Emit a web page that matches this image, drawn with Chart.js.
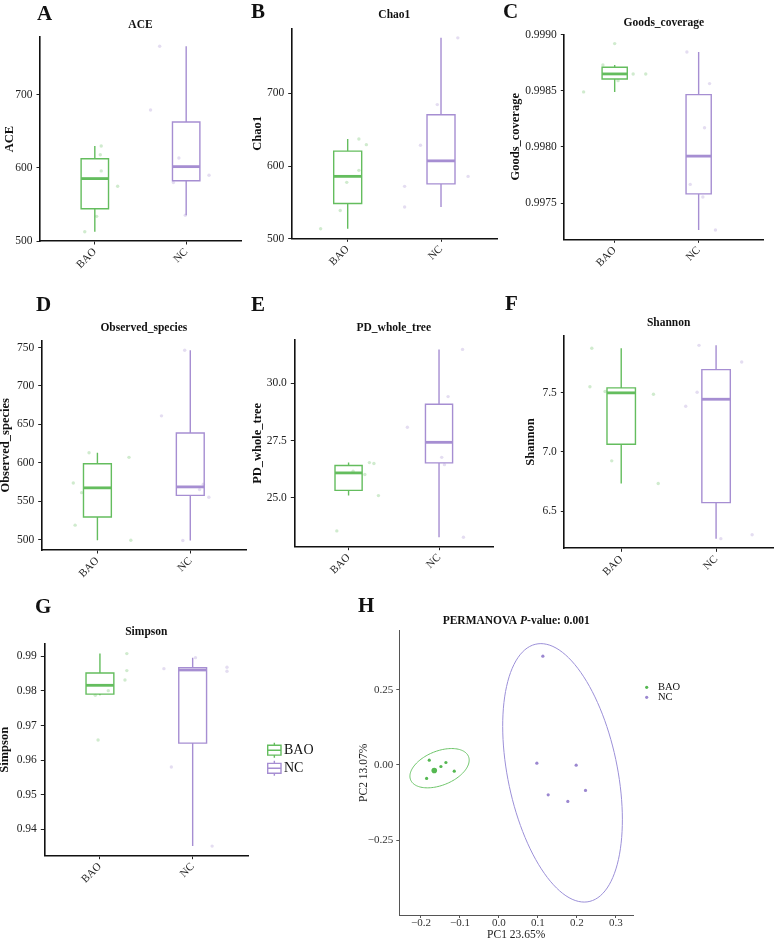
<!DOCTYPE html>
<html lang="en">
<head>
  <meta charset="UTF-8">
  <title>Alpha diversity and PCoA: BAO vs NC</title>
  <style>
    body { margin: 0; background: #fff; }
    #fig { position: relative; width: 777px; height: 939px; overflow: hidden; }
    #fig canvas { position: absolute; }
    .tag { position: absolute; font-family: 'Liberation Serif', serif; font-weight: bold; font-size: 21px; line-height: 21px; color: #111; }
  </style>
</head>
<body>
<div id="fig">
  <canvas id="cA"></canvas>
  <canvas id="cB"></canvas>
  <canvas id="cC"></canvas>
  <canvas id="cD"></canvas>
  <canvas id="cE"></canvas>
  <canvas id="cF"></canvas>
  <canvas id="cG"></canvas>
  <canvas id="cH"></canvas>
  <div class="tag" style="left:37px;top:3px">A</div>
  <div class="tag" style="left:251px;top:1px">B</div>
  <div class="tag" style="left:503px;top:1px">C</div>
  <div class="tag" style="left:36px;top:294px">D</div>
  <div class="tag" style="left:251px;top:294px">E</div>
  <div class="tag" style="left:505px;top:293px">F</div>
  <div class="tag" style="left:35px;top:596px">G</div>
  <div class="tag" style="left:358px;top:595px">H</div>
</div>

<script src="https://cdn.jsdelivr.net/npm/chart.js"></script>
<script>
  const groups = ['BAO', 'NC'];

  // A - ACE (value, jittered x position)
  const aceBAO = [630, 618, 596, 575, 534, 513];
  const aceBAOPos = [1.07, 1.06, 1.07, 1.25, 1.02, 0.89];
  const aceNC = [766, 679, 613.6, 590, 580, 535.5];
  const aceNCPos = [1.71, 1.61, 1.92, 2.25, 1.86, 1.99];
  const aceTicks = [500, 600, 700];
  const aceTickLabels = ['500', '600', '700'];

  // B - Chao1
  const chaoBAO = [513.6, 538.8, 577.5, 594, 637.2, 629.4];
  const chaoBAOPos = [0.71, 0.92, 0.99, 1.12, 1.12, 1.2];
  const chaoNC = [572, 543.5, 628.5, 684.6, 585.7, 776.5];
  const chaoNCPos = [1.61, 1.61, 1.78, 1.96, 2.29, 2.18];
  const chaoTicks = [500, 600, 700];
  const chaoTickLabels = ['500', '600', '700'];

  // C - Goods_coverage
  const goodsBAO = [0.99849, 0.99873, 0.99892, 0.99859, 0.99865, 0.99865];
  const goodsBAOPos = [0.63, 0.86, 1.0, 1.04, 1.22, 1.37];
  const goodsNC = [0.998846, 0.998564, 0.99817, 0.997666, 0.997554, 0.99726];
  const goodsNCPos = [1.86, 2.13, 2.07, 1.9, 2.05, 2.2];
  const goodsTicks = [0.9975, 0.998, 0.9985, 0.999];
  const goodsTickLabels = ['0.9975', '0.9980', '0.9985', '0.9990'];

  // D - Observed_species
  const obsBAO = [613, 573.5, 561, 518.7, 607, 499];
  const obsBAOPos = [0.91, 0.74, 0.83, 0.76, 1.34, 1.36];
  const obsNC = [746.5, 661, 572, 565, 555, 498.7];
  const obsNCPos = [1.94, 1.69, 2.14, 2.1, 2.2, 1.92];
  const obsTicks = [500, 550, 600, 650, 700, 750];
  const obsTickLabels = ['500', '550', '600', '650', '700', '750'];

  // E - PD_whole_tree
  const pdBAO = [23.56, 25.1, 26.02, 26.16, 26.5, 26.54];
  const pdBAOPos = [0.87, 1.33, 1.18, 1.05, 1.28, 1.23];
  const pdNC = [28.08, 29.42, 26.77, 26.45, 31.48, 23.28];
  const pdNCPos = [1.65, 2.1, 2.03, 2.06, 2.26, 2.27];
  const pdTicks = [25, 27.5, 30];
  const pdTickLabels = ['25.0', '27.5', '30.0'];

  // F - Shannon
  const shanBAO = [7.874, 7.55, 7.51, 7.486, 6.924, 6.733];
  const shanBAOPos = [0.69, 0.67, 0.83, 1.34, 0.9, 1.39];
  const shanNC = [7.899, 7.758, 7.503, 7.385, 6.267, 6.3];
  const shanNCPos = [1.82, 2.27, 1.8, 1.68, 2.05, 2.38];
  const shanTicks = [6.5, 7, 7.5];
  const shanTickLabels = ['6.5', '7.0', '7.5'];

  // G - Simpson
  const simBAO = [0.99077, 0.98586, 0.98316, 0.98007, 0.97872, 0.96581];
  const simBAOPos = [1.29, 1.29, 1.27, 1.09, 0.95, 0.98];
  const simNC = [0.98643, 0.98961, 0.98682, 0.98566, 0.958, 0.93516];
  const simNCPos = [1.69, 2.03, 2.37, 2.37, 1.77, 2.21];
  const simTicks = [0.94, 0.95, 0.96, 0.97, 0.98, 0.99];
  const simTickLabels = ['0.94', '0.95', '0.96', '0.97', '0.98', '0.99'];

  // H - PCoA scores
  const pc1BAO = [-0.1786, -0.1359, -0.1487, -0.1145, -0.1854, -0.1658];
  const pc2BAO = [0.0156, 0.008, -0.0053, -0.021, -0.0451, -0.0186];
  const pc1NC = [0.1128, 0.0974, 0.1983, 0.1265, 0.2222, 0.1769];
  const pc2NC = [0.3618, 0.0056, -0.001, -0.0995, -0.085, -0.1216];
  const pc1Ticks = [-0.2, -0.1, 0, 0.1, 0.2, 0.3];
  const pc1TickLabels = ['\u22120.2', '\u22120.1', '0.0', '0.1', '0.2', '0.3'];
  const pc2Ticks = [-0.25, 0, 0.25];
  const pc2TickLabels = ['\u22120.25', '0.00', '0.25'];
  // group ellipses: centre and two conjugate semi-axes (BAO, NC)
  const ellCx = [-0.1522, 0.1633];
  const ellCy = [-0.011, -0.0265];
  const ellAx = [0.031, -0.0556];
  const ellAy = [0.0654, 0.43];
  const ellBx = [0.0694, 0.1431];

  const serif = "'Liberation Serif', 'Times New Roman', serif";
  const lineColors = ['#64BD5E', '#A68ED2'];
  const jitterColors = ['rgba(100,189,94,0.3)', 'rgba(166,142,210,0.3)'];
  const pcoaColors = ['#55B851', '#9B87D0'];
  const ellColors = ['#6CC468', '#9C90D8'];

  Chart.defaults.font.family = serif;
  Chart.defaults.color = '#222';

  function quantile(s, p) {
    const h = (s.length - 1) * p, i = Math.floor(h);
    return i + 1 < s.length ? s[i] + (h - i) * (s[i + 1] - s[i]) : s[i];
  }

  function boxStats(vals) {
    const s = vals.slice().sort((a, b) => a - b);
    const q1 = quantile(s, 0.25), med = quantile(s, 0.5), q3 = quantile(s, 0.75);
    const iqr = q3 - q1;
    const inside = s.filter(v => v >= q1 - 1.5 * iqr && v <= q3 + 1.5 * iqr);
    return { q1, med, q3, lo: inside[0], hi: inside[inside.length - 1] };
  }

  // draws the boxes from computed stats through the chart scales
  const boxplotPlugin = {
    id: 'boxplot',
    beforeDatasetsDraw(chart, args, o) {
      if (!o.stats) return;
      const ctx = chart.ctx, x = chart.scales.x, y = chart.scales.y;
      o.stats.forEach((s, i) => {
        const c = x.getPixelForValue(i + 1);
        const l = x.getPixelForValue(i + 1 - o.width / 2);
        const r = x.getPixelForValue(i + 1 + o.width / 2);
        const py = v => y.getPixelForValue(v);
        ctx.save();
        ctx.strokeStyle = o.colors[i];
        ctx.lineWidth = o.lineWidth;
        ctx.beginPath();
        ctx.moveTo(c, py(s.hi)); ctx.lineTo(c, py(s.q3));
        ctx.moveTo(c, py(s.q1)); ctx.lineTo(c, py(s.lo));
        ctx.rect(l, py(s.q3), r - l, py(s.q1) - py(s.q3));
        ctx.stroke();
        ctx.lineWidth = o.lineWidth * 2;
        ctx.beginPath();
        ctx.moveTo(l, py(s.med)); ctx.lineTo(r, py(s.med));
        ctx.stroke();
        ctx.restore();
      });
    }
  };

  // bold title centred over the plot panel (parts allow an italic P)
  const titlePlugin = {
    id: 'panelTitle',
    afterDraw(chart, args, o) {
      if (!o.parts) return;
      const ctx = chart.ctx, a = chart.chartArea;
      ctx.save();
      ctx.fillStyle = '#111';
      ctx.textBaseline = 'middle';
      ctx.textAlign = 'left';
      const fonts = o.parts.map(p => (p.style || 'bold') + ' ' + o.size + 'px ' + serif);
      let total = 0;
      const widths = o.parts.map((p, i) => {
        ctx.font = fonts[i];
        const w = ctx.measureText(p.text).width;
        total += w;
        return w;
      });
      let x = (a.left + a.right) / 2 - total / 2;
      o.parts.forEach((p, i) => {
        ctx.font = fonts[i];
        ctx.fillText(p.text, x, o.y);
        x += widths[i];
      });
      ctx.restore();
    }
  };

  const ellipsePlugin = {
    id: 'ellipses',
    beforeDatasetsDraw(chart, args, o) {
      if (!o.cx) return;
      const ctx = chart.ctx, x = chart.scales.x, y = chart.scales.y;
      o.cx.forEach((cx, i) => {
        ctx.save();
        ctx.strokeStyle = o.colors[i];
        ctx.lineWidth = 1;
        ctx.beginPath();
        for (let k = 0; k <= 120; k++) {
          const t = k / 120 * 2 * Math.PI;
          const px = x.getPixelForValue(cx + o.ax[i] * Math.cos(t) + o.bx[i] * Math.sin(t));
          const py = y.getPixelForValue(o.cy[i] + o.ay[i] * Math.cos(t));
          if (k) ctx.lineTo(px, py); else ctx.moveTo(px, py);
        }
        ctx.stroke();
        ctx.restore();
      });
    }
  };

  // legend keys: small boxplot glyphs (G) or dots (H)
  const keyPlugin = {
    id: 'groupKeys',
    afterDraw(chart, args, o) {
      if (!o.labels) return;
      const ctx = chart.ctx;
      ctx.save();
      o.labels.forEach((lab, i) => {
        const yc = o.y[i];
        ctx.strokeStyle = o.colors[i];
        ctx.fillStyle = o.colors[i];
        if (o.kind === 'box') {
          const cx = o.x + o.w / 2;
          ctx.lineWidth = 1.4;
          ctx.beginPath();
          ctx.moveTo(cx, yc - o.h); ctx.lineTo(cx, yc - o.box);
          ctx.moveTo(cx, yc + o.box); ctx.lineTo(cx, yc + o.h);
          ctx.rect(o.x, yc - o.box, o.w, o.box * 2);
          ctx.moveTo(o.x, yc); ctx.lineTo(o.x + o.w, yc);
          ctx.stroke();
        } else {
          ctx.beginPath();
          ctx.arc(o.x, yc, o.r, 0, 2 * Math.PI);
          ctx.fill();
        }
        ctx.fillStyle = '#111';
        ctx.font = o.size + 'px ' + serif;
        ctx.textBaseline = 'middle';
        ctx.textAlign = 'left';
        ctx.fillText(lab, o.textX, yc);
      });
      ctx.restore();
    }
  };

  Chart.register(boxplotPlugin, titlePlugin, ellipsePlugin, keyPlugin);

  function placeCanvas(id, rect) {
    const cv = document.getElementById(id);
    cv.width = rect[2];
    cv.height = rect[3];
    cv.style.left = rect[0] + 'px';
    cv.style.top = rect[1] + 'px';
    return cv;
  }

  function boxChart(id, lay, spec) {
    const [x0, y0, w, h] = lay.rect;
    const [L, T, R, B] = lay.area;
    const cv = placeCanvas(id, lay.rect);
    const all = spec.bao.concat(spec.nc);
    const lo = Math.min(...all), hi = Math.max(...all), pad = (hi - lo) * 0.05;
    const sets = [[spec.bao, spec.baoPos], [spec.nc, spec.ncPos]];
    return new Chart(cv, {
      type: 'scatter',
      data: {
        datasets: sets.map(([vals, pos], g) => ({
          label: groups[g],
          data: vals.map((v, i) => ({ x: pos[i], y: v })),
          backgroundColor: jitterColors[g],
          borderWidth: 0,
          pointRadius: 1.7
        }))
      },
      options: {
        responsive: false,
        animation: false,
        events: [],
        layout: { padding: { left: 0, top: T - y0, right: x0 + w - R, bottom: 0 } },
        plugins: {
          legend: { display: false },
          tooltip: { enabled: false },
          boxplot: { stats: [boxStats(spec.bao), boxStats(spec.nc)], colors: lineColors, width: 0.3, lineWidth: 1.4 },
          panelTitle: { parts: [{ text: spec.title }], y: lay.titleY - y0, size: 11.5 },
          groupKeys: spec.keys || {}
        },
        scales: {
          x: {
            type: 'linear',
            min: 0.4,
            max: spec.xMax || 2.6,
            afterBuildTicks: s => { s.ticks = [{ value: 1 }, { value: 2 }]; },
            afterFit: s => { s.height = y0 + h - B; },
            ticks: { callback: v => groups[v - 1], minRotation: 45, maxRotation: 45, padding: 1, color: '#222', font: { size: 11 } },
            grid: { drawOnChartArea: false, color: '#222', tickLength: 3.5 },
            border: { color: '#111', width: 1.6 }
          },
          y: {
            min: lo - pad,
            max: hi + pad,
            afterBuildTicks: s => { s.ticks = spec.ticks.map(v => ({ value: v })); },
            afterFit: s => { s.width = L - x0; },
            ticks: { callback: (v, i) => spec.tickLabels[i], padding: 4, color: '#222', font: { size: 11.5 } },
            grid: { drawOnChartArea: false, color: '#222', tickLength: 3.5 },
            border: { color: '#111', width: 1.6 },
            title: {
              display: true, text: spec.yTitle, color: '#111',
              font: { size: 12.5, weight: 'bold' },
              padding: { top: lay.yTitlePad, bottom: 0 }
            }
          }
        }
      }
    });
  }

  boxChart('cA', { rect: [0, 0, 250, 290], area: [40, 37, 241, 241], titleY: 25, yTitlePad: 1.8 },
    { title: 'ACE', yTitle: 'ACE', bao: aceBAO, baoPos: aceBAOPos, nc: aceNC, ncPos: aceNCPos, ticks: aceTicks, tickLabels: aceTickLabels });

  boxChart('cB', { rect: [250, 0, 255, 290], area: [291.7, 28.3, 497, 238.3], titleY: 15.5, yTitlePad: 0 },
    { title: 'Chao1', yTitle: 'Chao1', bao: chaoBAO, baoPos: chaoBAOPos, nc: chaoNC, ncPos: chaoNCPos, ticks: chaoTicks, tickLabels: chaoTickLabels });

  boxChart('cC', { rect: [505, 0, 272, 290], area: [564.3, 34.3, 763.3, 239.3], titleY: 22.7, yTitlePad: 2.8 },
    { title: 'Goods_coverage', yTitle: 'Goods_coverage', bao: goodsBAO, baoPos: goodsBAOPos, nc: goodsNC, ncPos: goodsNCPos, ticks: goodsTicks, tickLabels: goodsTickLabels, xMax: 2.77 });

  boxChart('cD', { rect: [0, 290, 250, 300], area: [41.7, 340.7, 246.7, 550], titleY: 328.3, yTitlePad: -1.5 },
    { title: 'Observed_species', yTitle: 'Observed_species', bao: obsBAO, baoPos: obsBAOPos, nc: obsNC, ncPos: obsNCPos, ticks: obsTicks, tickLabels: obsTickLabels });

  boxChart('cE', { rect: [250, 290, 255, 300], area: [294.3, 340, 493.3, 546.7], titleY: 327.7, yTitlePad: 0 },
    { title: 'PD_whole_tree', yTitle: 'PD_whole_tree', bao: pdBAO, baoPos: pdBAOPos, nc: pdNC, ncPos: pdNCPos, ticks: pdTicks, tickLabels: pdTickLabels });

  boxChart('cF', { rect: [505, 290, 272, 300], area: [564.3, 335.7, 774.3, 548.3], titleY: 322.7, yTitlePad: 18.7 },
    { title: 'Shannon', yTitle: 'Shannon', bao: shanBAO, baoPos: shanBAOPos, nc: shanNC, ncPos: shanNCPos, ticks: shanTicks, tickLabels: shanTickLabels });

  boxChart('cG', { rect: [0, 590, 340, 349], area: [44.3, 644, 248.3, 855.7], titleY: 631.7, yTitlePad: -2.5 },
    { title: 'Simpson', yTitle: 'Simpson', bao: simBAO, baoPos: simBAOPos, nc: simNC, ncPos: simNCPos, ticks: simTicks, tickLabels: simTickLabels,
      keys: { kind: 'box', labels: groups, colors: lineColors, x: 267.7, w: 13.3, y: [160.2, 178.3], box: 4.9, h: 7.5, textX: 284, size: 14 } });

  // H - PCoA panel
  (function () {
    const rect = [340, 590, 437, 349], area = [399.3, 630.7, 633, 915];
    const [x0, y0, w, h] = rect, [L, T, R, B] = area;
    const cv = placeCanvas('cH', rect);
    const xs = [], ys = [];
    ellCx.forEach((cx, i) => {
      const hx = Math.hypot(ellAx[i], ellBx[i]), hy = Math.abs(ellAy[i]);
      xs.push(cx - hx, cx + hx);
      ys.push(ellCy[i] - hy, ellCy[i] + hy);
    });
    const xlo = Math.min(...xs), xhi = Math.max(...xs), ylo = Math.min(...ys), yhi = Math.max(...ys);
    const xp = (xhi - xlo) * 0.05, yp = (yhi - ylo) * 0.05;
    new Chart(cv, {
      type: 'scatter',
      data: {
        datasets: [
          {
            label: 'BAO',
            data: pc1BAO.map((v, i) => ({ x: v, y: pc2BAO[i] })),
            backgroundColor: pcoaColors[0],
            borderWidth: 0,
            pointRadius: c => c.dataIndex === 5 ? 2.8 : 1.6
          },
          {
            label: 'NC',
            data: pc1NC.map((v, i) => ({ x: v, y: pc2NC[i] })),
            backgroundColor: pcoaColors[1],
            borderWidth: 0,
            pointRadius: 1.6
          }
        ]
      },
      options: {
        responsive: false,
        animation: false,
        events: [],
        layout: { padding: { left: 0, top: T - y0, right: x0 + w - R, bottom: 0 } },
        plugins: {
          legend: { display: false },
          tooltip: { enabled: false },
          ellipses: { cx: ellCx, cy: ellCy, ax: ellAx, ay: ellAy, bx: ellBx, colors: ellColors },
          panelTitle: {
            parts: [{ text: 'PERMANOVA ' }, { text: 'P', style: 'italic bold' }, { text: '-value: 0.001' }],
            y: 621 - y0, size: 11.5
          },
          groupKeys: { kind: 'dot', labels: groups, colors: pcoaColors, x: 306.7, y: [97.3, 107.3], r: 1.6, textX: 318, size: 10.5 }
        },
        scales: {
          x: {
            min: xlo - xp,
            max: xhi + xp,
            afterBuildTicks: s => { s.ticks = pc1Ticks.map(v => ({ value: v })); },
            afterFit: s => { s.height = y0 + h - B; },
            ticks: { callback: (v, i) => pc1TickLabels[i], padding: -1, color: '#333', font: { size: 11 }, maxRotation: 0 },
            grid: { drawOnChartArea: false, color: '#555', tickLength: 3 },
            border: { color: '#555', width: 1 },
            title: { display: true, text: 'PC1 23.65%', color: '#222', font: { size: 11.5 }, padding: { top: 0, bottom: -2.5 } }
          },
          y: {
            min: ylo - yp,
            max: yhi + yp,
            afterBuildTicks: s => { s.ticks = pc2Ticks.map(v => ({ value: v })); },
            afterFit: s => { s.width = L - x0; },
            ticks: { callback: (v, i) => pc2TickLabels[i], padding: 3, color: '#333', font: { size: 11 } },
            grid: { drawOnChartArea: false, color: '#555', tickLength: 3 },
            border: { color: '#555', width: 1 },
            title: { display: true, text: 'PC2 13.07%', color: '#222', font: { size: 11.5 }, padding: { top: 16.8, bottom: 0 } }
          }
        }
      }
    });
  })();
</script>
</body>
</html>
